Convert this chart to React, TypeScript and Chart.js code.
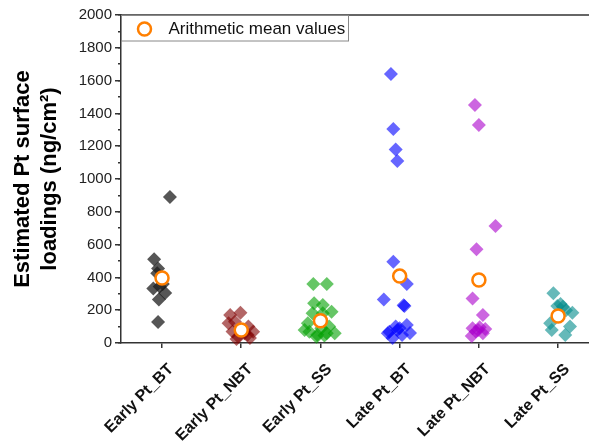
import React, { useEffect, useRef } from 'react';
import { Chart, registerables } from 'chart.js';

Chart.register(...registerables);

const categories = ['Early Pt_BT', 'Early Pt_NBT', 'Early Pt_SS', 'Late Pt_BT', 'Late Pt_NBT', 'Late Pt_SS'];

const earlyBT = [890, 510, 455, 425, 333, 345, 305, 265, 128, 360];
const earlyBTJitter = [0.10, -0.10, -0.05, -0.06, -0.11, -0.03, 0.04, -0.04, -0.05, 0.01];

const earlyNBT = [170, 185, 120, 130, 70, 68, 100, 40, 60, 50, 75, 30, 25];
const earlyNBTJitter = [-0.14, -0.01, -0.16, -0.08, -0.11, 0.15, 0.09, -0.04, 0.04, 0.08, 0, 0.11, -0.06];

const earlySS = [360, 360, 242, 232, 191, 120, 69, 90, 59, 100, 38, 181, 181, 50, 45, 80, 60];
const earlySSJitter = [-0.09, 0.08, -0.08, 0.03, 0.14, -0.16, -0.14, 0.01, 0.08, 0.11, -0.05, 0.03, -0.10, -0.04, 0.05, -0.20, 0.18];

const lateBT = [1640, 1305, 1180, 1110, 496, 360, 266, 230, 225, 69, 100, 110, 61, 49, 30, 80, 90, 60];
const lateBTJitter = [-0.11, -0.08, -0.05, -0.03, -0.08, 0.09, -0.20, 0.05, 0.06, -0.13, -0.05, 0.09, 0.13, 0.03, -0.09, -0.03, 0, -0.15];

const lateNBT = [1451, 1329, 713, 571, 272, 171, 90, 96, 59, 43, 79, 85, 70];
const lateNBTJitter = [-0.05, 0, 0.21, -0.03, -0.08, 0.05, -0.08, 0.01, 0.05, -0.09, -0.01, 0.08, -0.04];

const lateSS = [303, 238, 221, 225, 185, 120, 79, 100, 49, 200];
const lateSSJitter = [-0.06, 0.03, 0.06, -0.01, 0.18, -0.10, -0.08, 0.15, 0.09, 0.10];

const meanValues = [396, 79, 136, 408, 384, 165];

const groupValues = [earlyBT, earlyNBT, earlySS, lateBT, lateNBT, lateSS];
const groupJitter = [earlyBTJitter, earlyNBTJitter, earlySSJitter, lateBTJitter, lateNBTJitter, lateSSJitter];
const groupColors = [
  'rgba(30,30,30,0.75)',
  'rgba(128,0,0,0.6)',
  'rgba(0,160,0,0.6)',
  'rgba(0,0,255,0.6)',
  'rgba(170,0,204,0.6)',
  'rgba(0,139,139,0.6)',
];

const legendLabel = 'Arithmetic mean values';
const yTitle = ['Estimated Pt surface', 'loadings (ng/cm\u00B2)'];
const FONT = "'Liberation Sans', Arial, sans-serif";
const ORANGE = '#ff7f00';
const AXIS = '#333333';

const insideLegend = {
  id: 'insideLegend',
  afterDraw(chart: any) {
    const { ctx, chartArea } = chart;
    ctx.save();
    ctx.strokeStyle = AXIS;
    ctx.lineWidth = 1.5;
    ctx.beginPath();
    ctx.moveTo(chartArea.left, chartArea.top);
    ctx.lineTo(chartArea.right, chartArea.top);
    ctx.stroke();
    const bx = chartArea.left + 0.5;
    const by = chartArea.top + 0.5;
    ctx.strokeStyle = '#888888';
    ctx.lineWidth = 1;
    ctx.strokeRect(bx, by, 227, 25.5);
    ctx.beginPath();
    ctx.arc(bx + 23, by + 13.5, 6.5, 0, Math.PI * 2);
    ctx.fillStyle = '#ffffff';
    ctx.fill();
    ctx.lineWidth = 2.5;
    ctx.strokeStyle = ORANGE;
    ctx.stroke();
    ctx.fillStyle = '#111111';
    ctx.font = `17px ${FONT}`;
    ctx.textBaseline = 'middle';
    ctx.textAlign = 'left';
    ctx.fillText(legendLabel, bx + 47, by + 14);
    ctx.restore();
  },
};

export default function App() {
  const ref = useRef<HTMLCanvasElement | null>(null);

  useEffect(() => {
    if (!ref.current) return;
    const scatterSets = groupValues.map((vals, gi) => ({
      label: categories[gi],
      data: vals.map((v, i) => ({ x: gi + groupJitter[gi][i], y: v })),
      pointStyle: 'rectRot',
      pointRadius: 7,
      backgroundColor: groupColors[gi],
      borderColor: 'rgba(0,0,0,0)',
      borderWidth: 0,
      clip: false,
    }));
    const meanSet = {
      label: legendLabel,
      data: meanValues.map((v, i) => ({ x: i, y: v })),
      pointStyle: 'circle',
      pointRadius: 6.5,
      backgroundColor: '#ffffff',
      borderColor: ORANGE,
      borderWidth: 2.5,
      clip: false,
    };

    const chart = new Chart(ref.current, {
      type: 'scatter',
      data: { datasets: [meanSet, ...scatterSets] as any },
      plugins: [insideLegend],
      options: {
        animation: false,
        responsive: false,
        events: [],
        layout: { autoPadding: false, padding: { top: 15, left: 0, right: 0, bottom: 0 } },
        plugins: { legend: { display: false }, tooltip: { enabled: false } },
        scales: {
          y: {
            type: 'linear',
            position: 'left',
            weight: 1,
            min: 0,
            max: 2000,
            ticks: {
              stepSize: 200,
              color: '#222222',
              padding: 3,
              font: { family: FONT, size: 15 },
              callback: (v: any) => String(v),
            },
            grid: { drawOnChartArea: false, tickLength: 6, color: AXIS, lineWidth: 1.5 },
            border: { color: AXIS, width: 1.5 },
            title: {
              display: true,
              text: yTitle,
              color: '#000000',
              font: { family: FONT, size: 22, weight: 'bold', lineHeight: 1.25 },
              padding: { top: 9, bottom: 0 },
            },
            afterFit: (s: any) => { s.width = 121; s.paddingTop = 0; s.paddingBottom = 0; },
          },
          yMinor: {
            type: 'linear',
            position: 'left',
            weight: 0,
            min: 0,
            max: 2000,
            ticks: { stepSize: 100, display: false },
            grid: { drawOnChartArea: false, tickLength: 3, color: AXIS, lineWidth: 1.5 },
            border: { display: false },
            afterFit: (s: any) => { s.width = 0; },
          },
          x: {
            type: 'linear',
            position: 'bottom',
            min: -0.518,
            max: 5.39,
            afterBuildTicks: (s: any) => { s.ticks = categories.map((_, i) => ({ value: i })); },
            ticks: {
              autoSkip: false,
              maxRotation: 45,
              minRotation: 45,
              color: '#111111',
              padding: 12,
              labelOffset: 9,
              font: { family: FONT, size: 16, weight: 'bold' },
              callback: (v: any) => categories[Math.round(v)] ?? '',
            },
            grid: { drawOnChartArea: false, tickLength: 5, color: AXIS, lineWidth: 1.5 },
            border: { color: AXIS, width: 1.5 },
            afterFit: (s: any) => { s.height = 99; s.paddingLeft = 0; s.paddingRight = 0; },
          },
        },
      } as any,
    });
    return () => chart.destroy();
  }, []);

  return (
    <div style={{ position: 'absolute', left: 0, top: 0, width: 589, height: 442, background: '#fff' }}>
      <canvas ref={ref} width={589} height={442} />
    </div>
  );
}
